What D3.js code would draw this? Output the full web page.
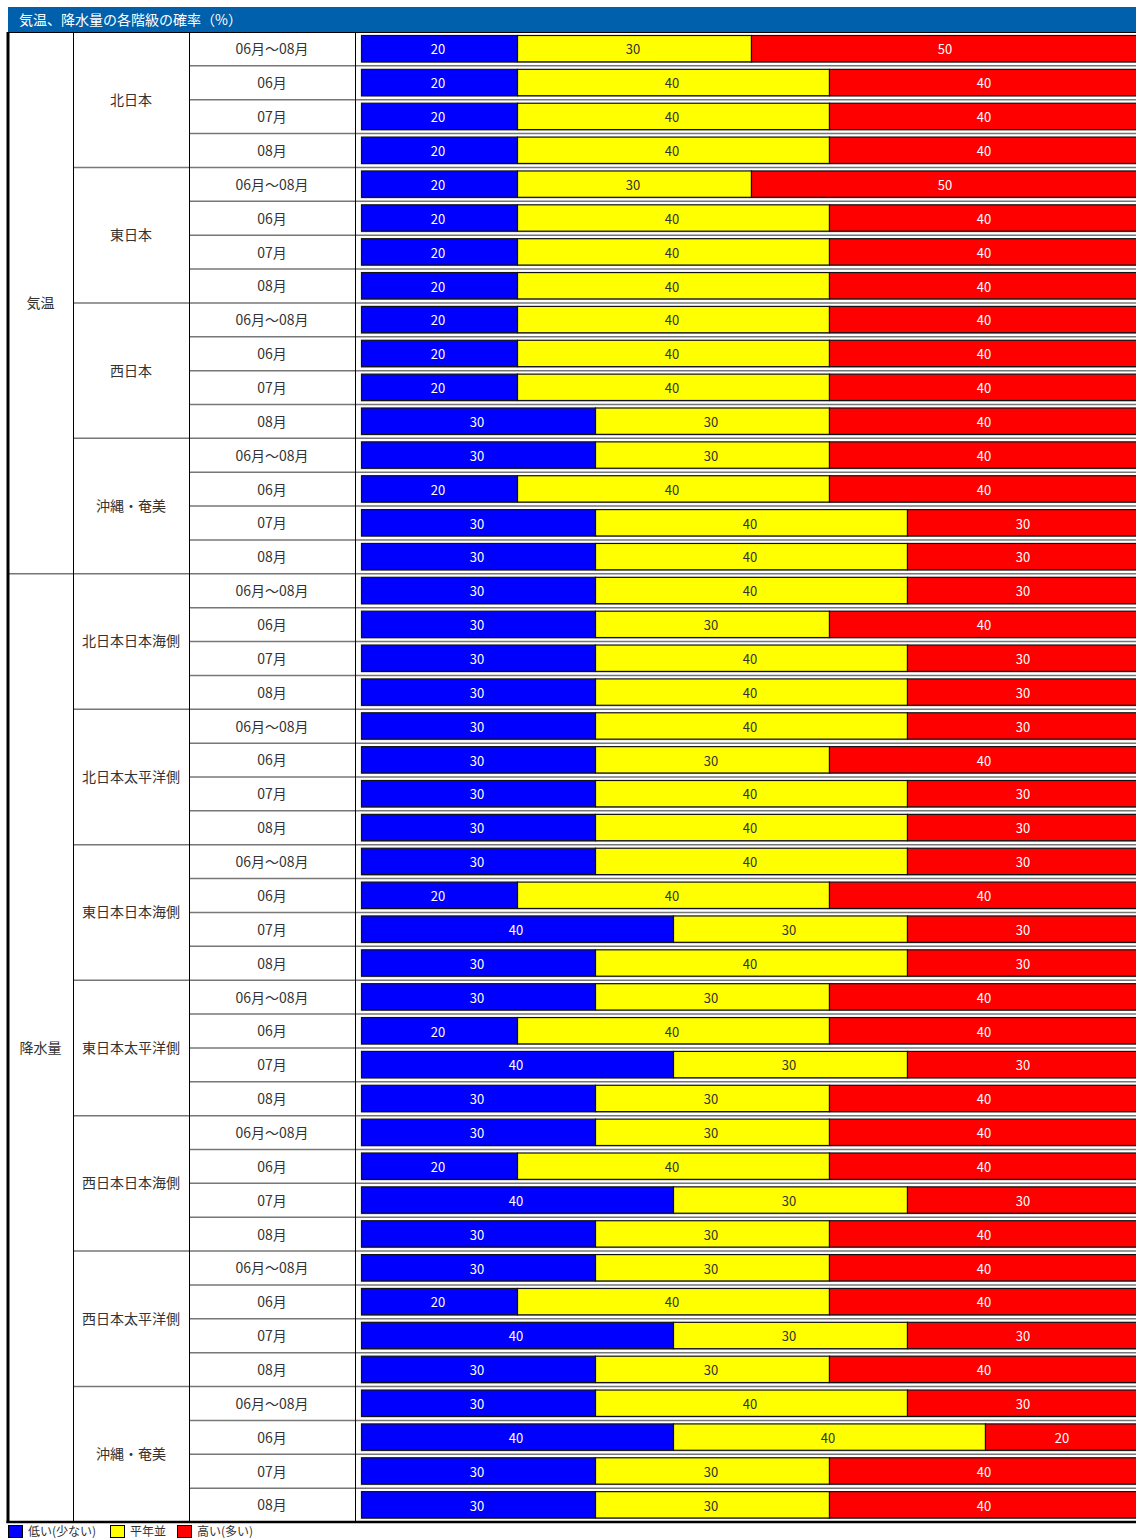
<!DOCTYPE html>
<html>
<head>
<meta charset="utf-8">
<script src="https://cdn.jsdelivr.net/npm/d3@7"></script>
<style>
  body { margin: 0; background: #fff; }
  svg { display: block; font-family: "Noto Sans CJK JP", "Noto Sans", sans-serif; }
</style>
</head>
<body>
<div id="chart"></div>
<script>
// data
const elements = ['気温', '降水量'];
const tempRegions = ['北日本', '東日本', '西日本', '沖縄・奄美'];
const rainRegions = ['北日本日本海側', '北日本太平洋側', '東日本日本海側', '東日本太平洋側',
  '西日本日本海側', '西日本太平洋側', '沖縄・奄美'];
const periods = ['06月～08月', '06月', '07月', '08月'];
const classes = ['低い(少ない)', '平年並', '高い(多い)'];

// [low, normal, high] for each period, by region
const tempValues = [
  [[20, 30, 50], [20, 40, 40], [20, 40, 40], [20, 40, 40]],
  [[20, 30, 50], [20, 40, 40], [20, 40, 40], [20, 40, 40]],
  [[20, 40, 40], [20, 40, 40], [20, 40, 40], [30, 30, 40]],
  [[30, 30, 40], [20, 40, 40], [30, 40, 30], [30, 40, 30]]
];
const rainValues = [
  [[30, 40, 30], [30, 30, 40], [30, 40, 30], [30, 40, 30]],
  [[30, 40, 30], [30, 30, 40], [30, 40, 30], [30, 40, 30]],
  [[30, 40, 30], [20, 40, 40], [40, 30, 30], [30, 40, 30]],
  [[30, 30, 40], [20, 40, 40], [40, 30, 30], [30, 30, 40]],
  [[30, 30, 40], [20, 40, 40], [40, 30, 30], [30, 30, 40]],
  [[30, 30, 40], [20, 40, 40], [40, 30, 30], [30, 30, 40]],
  [[30, 40, 30], [40, 40, 20], [30, 30, 40], [30, 30, 40]]
];

const classColors = ['#0000ff', '#ffff00', '#ff0000'];
const labelColors = ['#ffffff', '#333333', '#ffffff'];

class ProbabilityTable {

  constructor(_config, _rows) {
    this.config = {
      parentElement: _config.parentElement,
      containerWidth: _config.containerWidth || 1136,
      containerHeight: _config.containerHeight || 1538,
      title: _config.title
    }
    this.rows = _rows;
    this.initVis();
  }

  initVis() {
    let vis = this;

    // column edges of the table
    vis.cols = {left: 8, region: 73, period: 189, bars: 355, right: 1136};
    vis.top = 32;
    vis.bottom = 1522;

    vis.svg = d3.select(vis.config.parentElement).append('svg')
      .attr('width', vis.config.containerWidth)
      .attr('height', vis.config.containerHeight)

    // row positions
    vis.yScale = d3.scaleBand()
      .domain(d3.range(vis.rows.length))
      .range([vis.top, vis.bottom])
      .paddingInner(0)

    // percent -> x, 100% runs a little past the right edge like the original
    vis.xScale = d3.scaleLinear()
      .domain([0, 100])
      .range([361, 1141])

    // title bar
    vis.svg.append('rect')
      .attr('x', vis.cols.left)
      .attr('y', 7)
      .attr('width', vis.cols.right - vis.cols.left)
      .attr('height', 25)
      .attr('fill', '#0060ab')
    vis.svg.append('text')
      .attr('x', 19)
      .attr('y', 20)
      .attr('dy', '0.35em')
      .attr('fill', '#fff')
      .attr('font-size', 14)
      .text(vis.config.title)

    vis.gridG = vis.svg.append('g');
    vis.barG = vis.svg.append('g');
    vis.textG = vis.svg.append('g');
    vis.legendG = vis.svg.append('g');
  }

  updateVis() {
    let vis = this;

    // groups for merged cells
    const indexed = vis.rows.map((d, i) => ({...d, i}));
    vis.elementGroups = d3.groups(indexed, d => d.element)
      .map(([key, rs]) => ({key, first: rs[0].i, last: rs[rs.length - 1].i}));
    vis.regionGroups = d3.groups(indexed, d => d.element + '|' + d.region)
      .map(([key, rs]) => ({key: rs[0].region, first: rs[0].i, last: rs[rs.length - 1].i}));

    // stacked segments
    vis.segments = [];
    vis.rows.forEach((r, i) => {
      let start = 0;
      r.values.forEach((v, k) => {
        vis.segments.push({row: i, k, x0: start, x1: start + v, value: v});
        start += v;
      })
    })

    vis.renderVis();
  }

  renderVis() {
    let vis = this;
    const y = vis.yScale, x = vis.xScale, c = vis.cols;
    const bw = y.bandwidth();

    // row separators (period column and bar area)
    vis.gridG.selectAll('.row-line')
      .data(d3.range(1, vis.rows.length))
      .join('line')
      .attr('class', 'row-line')
      .attr('x1', c.period)
      .attr('x2', c.right)
      .attr('y1', d => y(d))
      .attr('y2', d => y(d))
      .attr('stroke', '#777')
      .attr('stroke-width', 1.5)

    // region separators
    vis.gridG.selectAll('.region-line')
      .data(vis.regionGroups.slice(1))
      .join('line')
      .attr('class', 'region-line')
      .attr('x1', c.region)
      .attr('x2', c.period)
      .attr('y1', d => y(d.first))
      .attr('y2', d => y(d.first))
      .attr('stroke', '#777')
      .attr('stroke-width', 1.5)

    // element separators
    vis.gridG.selectAll('.element-line')
      .data(vis.elementGroups.slice(1))
      .join('line')
      .attr('class', 'element-line')
      .attr('x1', c.left)
      .attr('x2', c.region)
      .attr('y1', d => y(d.first))
      .attr('y2', d => y(d.first))
      .attr('stroke', '#777')
      .attr('stroke-width', 1.5)

    // vertical column lines
    vis.gridG.selectAll('.col-line')
      .data([c.region, c.period, c.bars])
      .join('line')
      .attr('class', 'col-line')
      .attr('x1', d => d + 0.5)
      .attr('x2', d => d + 0.5)
      .attr('y1', vis.top)
      .attr('y2', vis.bottom)
      .attr('stroke', '#000')
      .attr('stroke-width', 1)

    // heavy outer lines
    vis.gridG.append('line')
      .attr('x1', c.left).attr('x2', c.left)
      .attr('y1', vis.top).attr('y2', vis.bottom + 1)
      .attr('stroke', '#000').attr('stroke-width', 3)
    vis.gridG.append('line')
      .attr('x1', c.left - 1.5).attr('x2', c.right)
      .attr('y1', vis.bottom).attr('y2', vis.bottom)
      .attr('stroke', '#000').attr('stroke-width', 2.5)
    vis.gridG.append('line')
      .attr('x1', c.left).attr('x2', c.right)
      .attr('y1', vis.top + 0.5).attr('y2', vis.top + 0.5)
      .attr('stroke', '#000').attr('stroke-width', 1)

    // bar shadow under each row's bar
    vis.barG.selectAll('.shadow')
      .data(vis.rows)
      .join('rect')
      .attr('class', 'shadow')
      .attr('x', x(0))
      .attr('y', (d, i) => y(i) + bw - 5)
      .attr('width', x(100) - x(0))
      .attr('height', 2)
      .attr('fill', '#999')

    // stacked segments
    vis.barG.selectAll('.seg')
      .data(vis.segments)
      .join('rect')
      .attr('class', 'seg')
      .attr('x', d => x(d.x0) + 0.5)
      .attr('y', d => y(d.row) + 3.5)
      .attr('width', d => x(d.x1) - x(d.x0))
      .attr('height', bw - 7.5)
      .attr('fill', d => classColors[d.k])
      .attr('stroke', '#111')
      .attr('stroke-width', 1.2)

    vis.barG.selectAll('.seg-label')
      .data(vis.segments)
      .join('text')
      .attr('class', 'seg-label')
      .attr('x', d => (x(d.x0) + x(d.x1)) / 2 - 1)
      .attr('y', d => y(d.row) + bw / 2 + 1)
      .attr('dy', '0.35em')
      .attr('text-anchor', 'middle')
      .attr('font-size', 13)
      .attr('fill', d => labelColors[d.k])
      .text(d => d.value)

    // text cells
    vis.textG.selectAll('.element-label')
      .data(vis.elementGroups)
      .join('text')
      .attr('class', 'element-label')
      .attr('x', (c.left + c.region) / 2)
      .attr('y', d => (y(d.first) + y(d.last) + bw) / 2)
      .attr('dy', '0.35em')
      .attr('text-anchor', 'middle')
      .attr('font-size', 14)
      .attr('fill', '#333')
      .text(d => d.key)

    vis.textG.selectAll('.region-label')
      .data(vis.regionGroups)
      .join('text')
      .attr('class', 'region-label')
      .attr('x', (c.region + c.period) / 2)
      .attr('y', d => (y(d.first) + y(d.last) + bw) / 2)
      .attr('dy', '0.35em')
      .attr('text-anchor', 'middle')
      .attr('font-size', 14)
      .attr('fill', '#333')
      .text(d => d.key)

    vis.textG.selectAll('.period-label')
      .data(vis.rows)
      .join('text')
      .attr('class', 'period-label')
      .attr('x', (c.period + c.bars) / 2)
      .attr('y', (d, i) => y(i) + bw / 2 + 0.5)
      .attr('dy', '0.35em')
      .attr('text-anchor', 'middle')
      .attr('font-size', 14)
      .attr('fill', '#333')
      .text(d => d.period)

    // legend
    const legendX = [8, 110, 177];
    const item = vis.legendG.selectAll('.legend')
      .data(classes)
      .join('g')
      .attr('class', 'legend')
      .attr('transform', (d, i) => `translate(${legendX[i]},1525)`)
    item.append('rect')
      .attr('x', 0.5).attr('y', 0.5)
      .attr('width', 14).attr('height', 12)
      .attr('fill', (d, i) => classColors[i])
      .attr('stroke', '#000')
    item.append('text')
      .attr('x', 20)
      .attr('y', 7)
      .attr('dy', '0.35em')
      .attr('font-size', 12)
      .attr('fill', '#333')
      .text(d => d)
  }
}

const rows = [];
[tempRegions, rainRegions].forEach((regions, e) => {
  const vals = e === 0 ? tempValues : rainValues;
  regions.forEach((region, r) => {
    periods.forEach((period, p) => {
      rows.push({element: elements[e], region, period, values: vals[r][p]});
    })
  })
})

const table = new ProbabilityTable({
  parentElement: '#chart',
  title: '気温、降水量の各階級の確率（%）'
}, rows);
table.updateVis();
</script>
</body>
</html>
